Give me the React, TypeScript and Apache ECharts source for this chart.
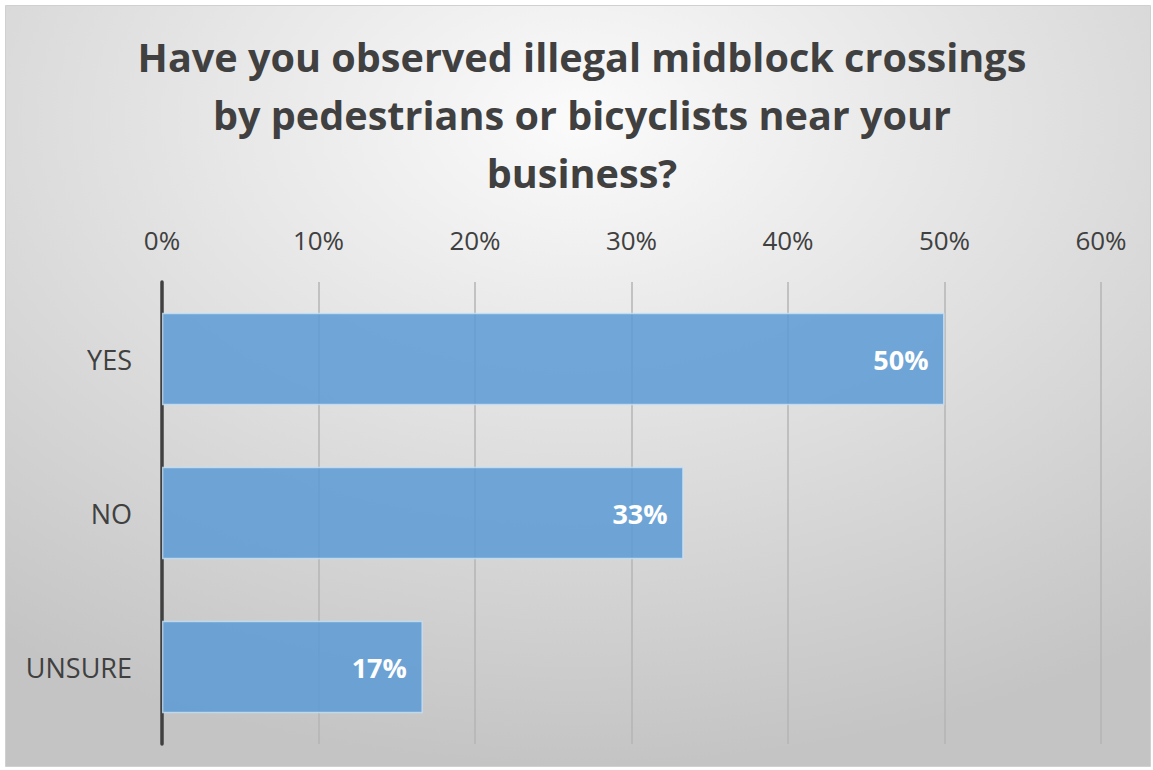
import React, { useEffect, useRef } from "react";
import * as echarts from "echarts";

const titleText = "Have you observed illegal midblock crossings\nby pedestrians or bicyclists near your\nbusiness?";
const categories = ["YES", "NO", "UNSURE"];
const values = [50, 33.33, 16.67];
const labels = ["50%", "33%", "17%"];
const axisMax = 60;
const axisInterval = 10;

export default function App() {
  const ref = useRef<HTMLDivElement>(null);
  useEffect(() => {
    if (!ref.current) return;
    const chart = echarts.init(ref.current, undefined, { renderer: "svg" });
    chart.setOption({
      animation: false,
      graphic: [
        {
          type: "rect",
          z: -10,
          silent: true,
          shape: { x: 5.5, y: 5.5, width: 1145, height: 761 },
          style: {
            fill: {
              type: "radial",
              x: 0.5,
              y: 0.15,
              r: 0.85,
              colorStops: [
                { offset: 0, color: "#fbfbfb" },
                { offset: 1, color: "#c4c4c4" },
              ],
            },
            stroke: "#d0d0d0",
            lineWidth: 1,
          },
        },
      ],
      title: {
        text: titleText,
        left: 577,
        textAlign: "center",
        top: 23,
        textStyle: {
          fontFamily: "Open Sans",
          fontWeight: "bold",
          fontSize: 39.6,
          lineHeight: 58,
          color: "#404040",
        },
      },
      grid: { left: 162, right: 52, top: 282, bottom: 26, containLabel: false },
      xAxis: {
        type: "value",
        position: "top",
        min: 0,
        max: axisMax,
        interval: axisInterval,
        axisLine: { show: false },
        axisTick: { show: false },
        splitLine: { show: true, lineStyle: { color: "#b5b5b5", width: 1.5 } },
        axisLabel: {
          formatter: (v: number) => `${v}%`,
          fontFamily: "Open Sans",
          fontSize: 26,
          color: "#404040",
          margin: 29,
        },
      },
      yAxis: {
        type: "category",
        data: categories,
        inverse: true,
        axisLine: { show: true, lineStyle: { color: "#404040", width: 3.5 } },
        axisTick: { show: false },
        axisLabel: {
          fontFamily: "Open Sans",
          fontSize: 27,
          color: "#404040",
          margin: 30,
        },
      },
      series: [
        {
          type: "bar",
          data: values,
          barWidth: "60%",
          itemStyle: {
            color: "rgba(91,155,213,0.85)",
            borderColor: "rgba(200,225,245,0.8)",
            borderWidth: 1.5,
          },
          label: {
            show: true,
            position: "insideRight",
            distance: 16,
            formatter: (p: any) => labels[p.dataIndex],
            fontFamily: "Open Sans",
            fontWeight: "bold",
            fontSize: 27,
            color: "#ffffff",
          },
        },
      ],
    });
    return () => chart.dispose();
  }, []);
  return (
    <div
      ref={ref}
      style={{ position: "absolute", left: 0, top: 0, width: 1153, height: 770 }}
    />
  );
}
